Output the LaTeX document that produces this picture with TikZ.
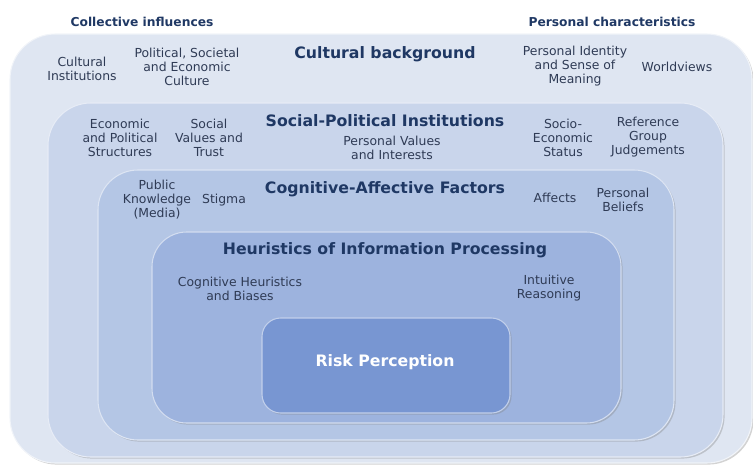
\documentclass[tikz,border=0pt]{standalone}
\usepackage{fontspec}
\setmainfont{DejaVu Sans}
\usetikzlibrary{shadows}

\definecolor{lvlA}{HTML}{DFE6F2}
\definecolor{lvlB}{HTML}{C9D5EB}
\definecolor{lvlC}{HTML}{B4C6E5}
\definecolor{lvlD}{HTML}{9DB3DE}
\definecolor{lvlE}{HTML}{7896D2}
\definecolor{headtxt}{HTML}{1F3864}
\definecolor{bodytxt}{HTML}{2F3B55}

\tikzset{
  layer/.style={draw=white!55!#1, line width=0.8pt, fill=#1,
    drop shadow={shadow xshift=1.2pt, shadow yshift=-1.2pt, opacity=0.35}},
  heading/.style={font=\bfseries\fontsize{11.8}{14}\selectfont, text=headtxt},
  toplabel/.style={font=\bfseries\fontsize{9.2}{11}\selectfont, text=headtxt},
  factor/.style={font=\fontsize{9.3}{10.5}\selectfont, text=bodytxt, align=center, inner sep=1pt}
}

\begin{document}
\begin{tikzpicture}[x=0.75pt,y=0.75pt,yscale=-1,xscale=1]
\useasboundingbox (0,0) rectangle (753,464);
\clip (0,0) rectangle (753,464);

%Shape: Rounded Rect [Cultural background]
\draw [layer=lvlA, rounded corners=34pt] (10,34) rectangle (752,463);
%Shape: Rounded Rect [Social-Political Institutions]
\draw [layer=lvlB, rounded corners=32pt] (48,103) rectangle (723,457);
%Shape: Rounded Rect [Cognitive-Affective Factors]
\draw [layer=lvlC, rounded corners=30pt] (98,170) rectangle (674,440);
%Shape: Rounded Rect [Heuristics]
\draw [layer=lvlD, rounded corners=26pt] (152,232) rectangle (621,423);
%Shape: Rounded Rect [Risk Perception]
\draw [layer=lvlE, rounded corners=14pt] (262,318) rectangle (510,413);

% Text Node
\node [toplabel] (collective) at (142,22) {Collective influences};
% Text Node
\node [toplabel] (personal) at (612,22) {Personal characteristics};

% Text Node
\node [heading] (culture) at (385,54) {Cultural background};
\node [factor] (culturalinst) at (82,69) {Cultural\\Institutions};
\node [factor] (polsoc) at (187,67) {Political, Societal\\and Economic\\Culture};
\node [factor] (identity) at (575,66) {Personal Identity\\and Sense of\\Meaning};
\node [factor] (worldviews) at (677,67) {Worldviews};

% Text Node
\node [heading] (sociopol) at (385,121) {Social-Political Institutions};
\node [factor] (econpol) at (120,138) {Economic\\and Political\\Structures};
\node [factor] (socvalues) at (209,138) {Social\\Values and\\Trust};
\node [factor] (persvalues) at (392,148) {Personal Values\\and Interests};
\node [factor] (socioecon) at (563,138) {Socio-\\Economic\\Status};
\node [factor] (refgroup) at (648,137) {Reference\\Group\\Judgements};

% Text Node
\node [heading] (cogaff) at (385,189) {Cognitive-Affective Factors};
\node [factor] (publicknow) at (157,200) {Public\\Knowledge\\(Media)};
\node [factor] (stigma) at (224,200) {Stigma};
\node [factor] (affects) at (555,198) {Affects};
\node [factor] (beliefs) at (623,200) {Personal\\Beliefs};

% Text Node
\node [heading] (heuristics) at (385,250) {Heuristics of Information Processing};
\node [factor] (coghb) at (240,289) {Cognitive Heuristics\\and Biases};
\node [factor] (intuitive) at (549,288) {Intuitive\\Reasoning};

% Text Node
\node [heading, text=white] (risk) at (385,362) {Risk Perception};
\end{tikzpicture}
\end{document}
